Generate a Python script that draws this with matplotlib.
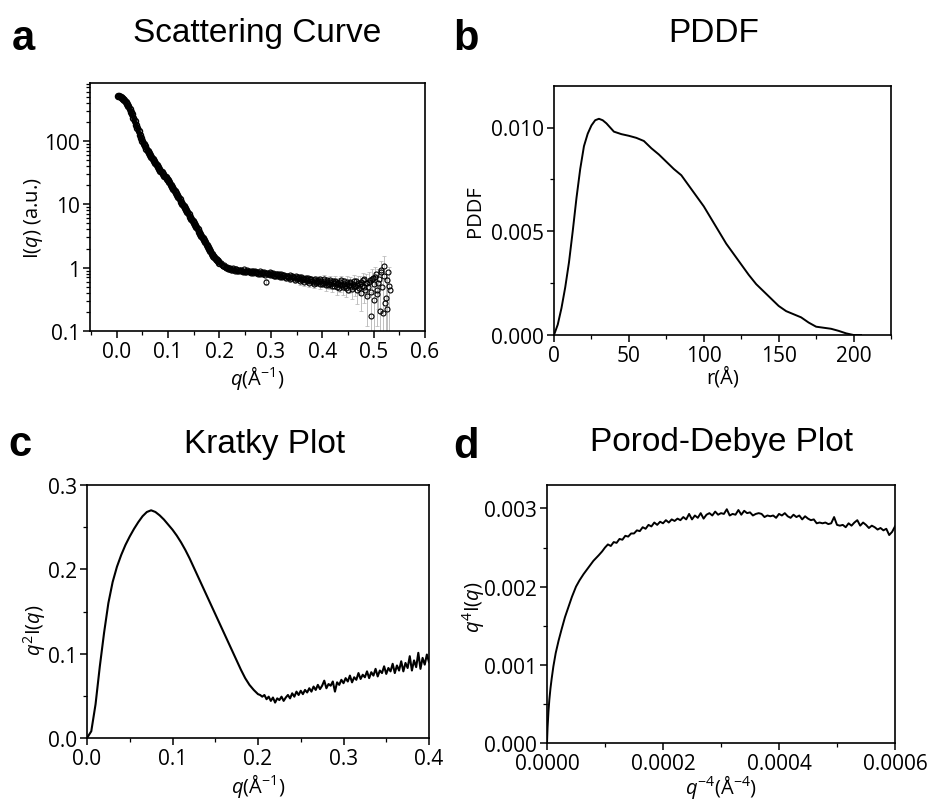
import numpy as np
import matplotlib
matplotlib.use('Agg')
import matplotlib.pyplot as plt
from matplotlib.ticker import MultipleLocator, FixedLocator, FixedFormatter, FormatStrFormatter, LogLocator, NullFormatter

plt.rcParams['font.family'] = ['Open Sans', 'DejaVu Sans']
plt.rcParams['mathtext.fontset'] = 'custom'
plt.rcParams['mathtext.rm'] = 'Open Sans'
plt.rcParams['mathtext.it'] = 'Open Sans:italic'
plt.rcParams['mathtext.bf'] = 'Open Sans:bold'

# ---------------- Panel a: scattering curve ----------------
q_low = [0.0025, 0.005, 0.0075, 0.01, 0.0125, 0.015, 0.0175, 0.02, 0.0225, 0.025,
         0.0275, 0.03, 0.0325, 0.035, 0.0375, 0.04, 0.0425, 0.045, 0.0475, 0.05,
         0.0525, 0.055, 0.0575, 0.06, 0.0625, 0.065, 0.0675, 0.07, 0.0725, 0.075,
         0.0775, 0.08, 0.0825, 0.085, 0.0875, 0.09, 0.0925, 0.095, 0.0975, 0.1,
         0.1025, 0.105, 0.1075, 0.11, 0.1125, 0.115, 0.1175, 0.12, 0.1225, 0.125,
         0.1275, 0.13, 0.1325, 0.135, 0.1375, 0.14, 0.1425, 0.145, 0.1475, 0.15,
         0.1525, 0.155, 0.1575, 0.16, 0.1625, 0.165, 0.1675, 0.17, 0.1725, 0.175,
         0.1775, 0.18, 0.1825, 0.185, 0.1875, 0.19, 0.1925, 0.195, 0.1975, 0.2]
I_low = [520, 510, 495, 478, 458, 435, 408, 380, 350, 320,
         290, 262, 232, 205, 181, 160, 141, 125, 110, 98,
         89, 82, 75.5, 70, 65, 60, 56, 52, 48.5, 45,
         42, 39, 36.5, 34, 32, 30, 28.4, 27, 25.4, 24,
         22.2, 20.5, 19, 17.5, 16.2, 15, 13.9, 12.8, 11.9, 11,
         10.2, 9.5, 8.8, 8.1, 7.5, 6.9, 6.4, 5.9, 5.45, 5.0,
         4.65, 4.3, 4.0, 3.7, 3.42, 3.15, 2.92, 2.7, 2.5, 2.3,
         2.12, 1.95, 1.8, 1.65, 1.55, 1.45, 1.37, 1.3, 1.25, 1.2]

q_high = [0.203, 0.206, 0.209, 0.212, 0.215, 0.218, 0.221, 0.224, 0.227, 0.230,
          0.233, 0.236, 0.239, 0.242, 0.245, 0.248, 0.251, 0.254, 0.257, 0.260,
          0.263, 0.266, 0.269, 0.272, 0.275, 0.278, 0.281, 0.284, 0.287, 0.290,
          0.293, 0.296, 0.299, 0.302, 0.305, 0.308, 0.311, 0.314, 0.317, 0.320,
          0.323, 0.326, 0.329, 0.332, 0.335, 0.338, 0.341, 0.344, 0.347, 0.350,
          0.353, 0.356, 0.359, 0.362, 0.365, 0.368, 0.371, 0.374, 0.377, 0.380,
          0.383, 0.386, 0.389, 0.392, 0.395, 0.398, 0.401, 0.404, 0.407, 0.410,
          0.413, 0.416, 0.419, 0.422, 0.425, 0.428, 0.431, 0.434, 0.437, 0.440,
          0.443, 0.446, 0.449, 0.452, 0.455, 0.458, 0.461, 0.464, 0.467, 0.470,
          0.473, 0.476, 0.479, 0.482, 0.485, 0.488, 0.491, 0.494, 0.497, 0.500,
          0.503, 0.506, 0.509, 0.512, 0.515, 0.518, 0.521, 0.524, 0.527, 0.530]
I_high = [1.17, 1.08, 1.09, 0.99, 1.04, 0.95, 1.00, 0.91, 0.97, 0.90,
          0.95, 0.87, 0.93, 0.92, 0.85, 0.94, 0.86, 0.91, 0.84, 0.89,
          0.90, 0.82, 0.88, 0.85, 0.80, 0.87, 0.83, 0.78, 0.86, 0.60,
          0.82, 0.79, 0.84, 0.76, 0.81, 0.74, 0.80, 0.77, 0.71, 0.79,
          0.73, 0.76, 0.69, 0.75, 0.72, 0.66, 0.74, 0.70, 0.64, 0.72,
          0.68, 0.62, 0.71, 0.65, 0.60, 0.69, 0.63, 0.58, 0.67, 0.61,
          0.56, 0.66, 0.60, 0.64, 0.55, 0.62, 0.58, 0.66, 0.53, 0.60,
          0.56, 0.64, 0.51, 0.58, 0.62, 0.49, 0.57, 0.54, 0.63, 0.50,
          0.56, 0.47, 0.60, 0.53, 0.57, 0.46, 0.61, 0.52, 0.44, 0.58,
          0.55, 0.40, 0.63, 0.50, 0.57, 0.36, 0.60, 0.17, 0.66, 0.31,
          0.72, 0.45, 0.58, 0.21, 0.86, 0.19, 1.08, 0.33, 0.22, 0.52]
err_high = [0.05, 0.06, 0.05, 0.05, 0.06, 0.05, 0.05, 0.06, 0.05, 0.05,
            0.06, 0.05, 0.06, 0.06, 0.05, 0.06, 0.06, 0.05, 0.06, 0.06,
            0.05, 0.06, 0.06, 0.06, 0.05, 0.06, 0.06, 0.06, 0.05, 0.07,
            0.06, 0.06, 0.07, 0.06, 0.07, 0.06, 0.07, 0.07, 0.06, 0.07,
            0.07, 0.06, 0.07, 0.07, 0.07, 0.07, 0.08, 0.07, 0.07, 0.08,
            0.07, 0.08, 0.08, 0.07, 0.08, 0.08, 0.08, 0.09, 0.08, 0.08,
            0.09, 0.09, 0.08, 0.09, 0.09, 0.10, 0.09, 0.10, 0.10, 0.09,
            0.10, 0.11, 0.10, 0.11, 0.11, 0.12, 0.11, 0.12, 0.12, 0.13,
            0.12, 0.13, 0.14, 0.13, 0.15, 0.14, 0.15, 0.16, 0.17, 0.16,
            0.18, 0.19, 0.20, 0.22, 0.21, 0.24, 0.26, 0.25, 0.28, 0.30,
            0.29, 0.33, 0.36, 0.35, 0.40, 0.42, 0.45, 0.46, 0.48, 0.50]

q_high2 = [0.2045, 0.2075, 0.2105, 0.2135, 0.2165, 0.2195, 0.2225, 0.2255, 0.2285, 0.2315,
           0.2345, 0.2375, 0.2405, 0.2435, 0.2465, 0.2495, 0.2525, 0.2555, 0.2585, 0.2615,
           0.2645, 0.2675, 0.2705, 0.2735, 0.2765, 0.2795, 0.2825, 0.2855, 0.2885, 0.2915,
           0.2945, 0.2975, 0.3005, 0.3035, 0.3065, 0.3095, 0.3125, 0.3155, 0.3185, 0.3215,
           0.3245, 0.3275, 0.3305, 0.3335, 0.3365, 0.3395, 0.3425, 0.3455, 0.3485, 0.3515,
           0.3545, 0.3575, 0.3605, 0.3635, 0.3665, 0.3695, 0.3725, 0.3755, 0.3785, 0.3815,
           0.3845, 0.3875, 0.3905, 0.3935, 0.3965, 0.3995, 0.4025, 0.4055, 0.4085, 0.4115,
           0.4145, 0.4175, 0.4205, 0.4235, 0.4265, 0.4295, 0.4325, 0.4355, 0.4385, 0.4415,
           0.4445, 0.4475, 0.4505, 0.4535, 0.4565, 0.4595, 0.4625, 0.4655, 0.4685, 0.4715,
           0.4745, 0.4775, 0.4805, 0.4835, 0.4865, 0.4895, 0.4925, 0.4955, 0.4985, 0.5015,
           0.5045, 0.5075, 0.5105, 0.5135, 0.5165, 0.5195, 0.5225, 0.5255, 0.5285, 0.5315]
I_high2 = [1.12, 1.05, 1.02, 1.03, 0.96, 0.99, 0.93, 0.96, 0.92, 0.94,
           0.89, 0.92, 0.88, 0.90, 0.89, 0.85, 0.90, 0.87, 0.86, 0.83,
           0.88, 0.85, 0.81, 0.86, 0.83, 0.80, 0.84, 0.81, 0.77, 0.83,
           0.80, 0.76, 0.81, 0.78, 0.75, 0.79, 0.73, 0.78, 0.75, 0.72,
           0.77, 0.70, 0.74, 0.71, 0.76, 0.68, 0.72, 0.69, 0.73, 0.66,
           0.70, 0.67, 0.63, 0.69, 0.66, 0.61, 0.68, 0.62, 0.65, 0.59,
           0.64, 0.57, 0.62, 0.59, 0.65, 0.56, 0.61, 0.57, 0.63, 0.54,
           0.59, 0.55, 0.61, 0.52, 0.60, 0.55, 0.48, 0.59, 0.53, 0.61,
           0.51, 0.56, 0.45, 0.59, 0.52, 0.56, 0.49, 0.62, 0.54, 0.47,
           0.60, 0.51, 0.66, 0.44, 0.58, 0.50, 0.63, 0.41, 0.68, 0.55,
           0.78, 0.38, 0.66, 0.92, 0.50, 0.74, 0.28, 0.63, 0.85, 0.45]

# ---------------- Panel b: PDDF ----------------
r_b = [0, 2.5, 5, 7.5, 10, 12.5, 15, 17.5, 20, 22.5, 25, 27.5, 30, 32.5, 35, 40, 45,
       50, 55, 60, 65, 70, 75, 80, 85, 90, 95, 100, 105, 110, 115, 120, 125, 130,
       135, 140, 145, 150, 155, 160, 165, 170, 175, 180, 185, 190, 195, 200, 205]
p_b = [0.0, 0.0005, 0.0013, 0.0023, 0.0035, 0.0050, 0.0066, 0.0080, 0.0091, 0.0097,
       0.0101, 0.01035, 0.01042, 0.01035, 0.0102, 0.0098, 0.00968,
       0.0096, 0.0095, 0.00935, 0.0090, 0.0087, 0.00835, 0.0080, 0.0077, 0.0072,
       0.0067, 0.0062, 0.0056, 0.0050, 0.0044, 0.0039, 0.0034, 0.0029,
       0.00245, 0.0021, 0.00175, 0.0014, 0.00115, 0.0010, 0.00085, 0.0006,
       0.0004, 0.00035, 0.0003, 0.0002, 0.00008, 0.0, 0.0]

# ---------------- Panel c: Kratky ----------------
q_c = [0.0, 0.005, 0.01, 0.015, 0.02, 0.025, 0.03, 0.035, 0.04, 0.045, 0.05, 0.055,
       0.06, 0.065, 0.07, 0.075, 0.08, 0.085, 0.09, 0.095, 0.1, 0.105, 0.11, 0.115,
       0.12, 0.125, 0.13, 0.135, 0.14, 0.145, 0.15, 0.155, 0.16, 0.165, 0.17, 0.175,
       0.18, 0.185, 0.19, 0.195, 0.2,
       0.2025, 0.205, 0.2075, 0.21, 0.2125, 0.215, 0.2175, 0.22, 0.2225, 0.225,
       0.2275, 0.23, 0.2325, 0.235, 0.2375, 0.24, 0.2425, 0.245, 0.2475, 0.25,
       0.2525, 0.255, 0.2575, 0.26, 0.2625, 0.265, 0.2675, 0.27, 0.2725, 0.275,
       0.2775, 0.28, 0.2825, 0.285, 0.2875, 0.29, 0.2925, 0.295, 0.2975, 0.3,
       0.3025, 0.305, 0.3075, 0.31, 0.3125, 0.315, 0.3175, 0.32, 0.3225, 0.325,
       0.3275, 0.33, 0.3325, 0.335, 0.3375, 0.34, 0.3425, 0.345, 0.3475, 0.35,
       0.3525, 0.355, 0.3575, 0.36, 0.3625, 0.365, 0.3675, 0.37, 0.3725, 0.375,
       0.3775, 0.38, 0.3825, 0.385, 0.3875, 0.39, 0.3925, 0.395, 0.3975, 0.4]
k_c = [0.0, 0.008, 0.040, 0.085, 0.125, 0.160, 0.185, 0.203, 0.217, 0.229, 0.239, 0.248,
       0.256, 0.263, 0.268, 0.270, 0.268, 0.264, 0.259, 0.253, 0.247, 0.240, 0.232, 0.223,
       0.213, 0.202, 0.191, 0.180, 0.169, 0.158, 0.147, 0.136, 0.125, 0.114, 0.103, 0.092,
       0.081, 0.071, 0.063, 0.057, 0.052,
       0.051, 0.049, 0.051, 0.046, 0.049, 0.044, 0.048, 0.042, 0.047, 0.045,
       0.049, 0.044, 0.048, 0.051, 0.047, 0.053, 0.049, 0.055, 0.051, 0.056,
       0.052, 0.057, 0.054, 0.059, 0.055, 0.061, 0.057, 0.063, 0.058, 0.062,
       0.068, 0.059, 0.064, 0.062, 0.067, 0.055, 0.066, 0.063, 0.069, 0.065,
       0.071, 0.067, 0.074, 0.066, 0.072, 0.069, 0.077, 0.070, 0.075, 0.072,
       0.079, 0.071, 0.078, 0.074, 0.082, 0.073, 0.080, 0.077, 0.085, 0.076,
       0.083, 0.079, 0.088, 0.077, 0.086, 0.080, 0.091, 0.079, 0.089, 0.083,
       0.097, 0.080, 0.092, 0.084, 0.101, 0.082, 0.095, 0.087, 0.099, 0.090]

# ---------------- Panel d: Porod-Debye (x in units of 1e-6) ----------------
x_d_e6 = [0, 1, 2.5, 4, 6, 8, 11, 15, 20, 25, 31, 37, 43, 50, 56, 63, 71, 80, 89, 95,
          100, 105, 110, 115, 120, 125, 130, 135, 140, 145, 150, 155, 160, 165, 170,
          175, 180, 185, 190, 195, 200, 205, 210, 215, 220, 225, 230, 235, 240, 245,
          250, 255, 260, 265, 270, 275, 280, 285, 290, 295, 300, 305, 310, 315, 320,
          325, 330, 335, 340, 345, 350, 355, 360, 365, 370, 375, 380, 385, 390, 395,
          400, 405, 410, 415, 420, 425, 430, 435, 440, 445, 450, 455, 460, 465, 470,
          475, 480, 485, 490, 495, 500, 505, 510, 515, 520, 525, 530, 535, 540, 545,
          550, 555, 560, 565, 570, 575, 580, 585, 590, 595, 600]
y_d = [0.0, 0.0002, 0.0004, 0.00055, 0.0007, 0.00082, 0.00098, 0.00115, 0.00131, 0.00145,
       0.00161, 0.00174, 0.00187, 0.00200, 0.00208, 0.00216, 0.00224, 0.00233, 0.00240, 0.00245,
       0.00250, 0.00254, 0.00252, 0.00257, 0.00256, 0.00261, 0.00260, 0.00265, 0.00264, 0.00268,
       0.00268, 0.00272, 0.00271, 0.00276, 0.00274, 0.00279, 0.00277, 0.00282, 0.00279, 0.00283,
       0.00281, 0.00285, 0.00282, 0.00286, 0.00284, 0.00287, 0.00285, 0.00289, 0.00286, 0.00293,
       0.00286, 0.00291, 0.00288, 0.00294, 0.00287, 0.00292, 0.00294, 0.00291, 0.00296, 0.00292,
       0.00294, 0.00293, 0.00299, 0.00291, 0.00293, 0.00292, 0.00298, 0.00292, 0.00297, 0.00294,
       0.00295, 0.00291, 0.00293, 0.00294, 0.00293, 0.00289, 0.00291, 0.00290, 0.00291, 0.00288,
       0.00293, 0.00291, 0.00294, 0.00290, 0.00288, 0.00292, 0.00289, 0.00291, 0.00286, 0.00290,
       0.00287, 0.00285, 0.00286, 0.00281, 0.00282, 0.00281, 0.00282, 0.00280, 0.00281, 0.00289,
       0.00279, 0.00278, 0.00279, 0.00276, 0.00281, 0.00278, 0.00282, 0.00285, 0.00278, 0.00282,
       0.00279, 0.00275, 0.00278, 0.00276, 0.00273, 0.00275, 0.00272, 0.00274, 0.00266, 0.00270,
       0.00277]

# ---------------- Figure ----------------
W, H = 934, 812
fig = plt.figure(figsize=(W / 100, H / 100), dpi=100)


def box(l, t, r, b):
    return [l / W, 1 - b / H, (r - l) / W, (b - t) / H]


TICK_FS = 15
LAB_FS = 14.5


def style(ax):
    for s in ax.spines.values():
        s.set_linewidth(1.2)
    ax.tick_params(which='major', direction='out', length=5, width=1.1,
                   labelsize=TICK_FS, pad=2)
    ax.tick_params(which='minor', direction='out', length=3, width=0.9)


axa = fig.add_axes(box(90, 84, 425, 332))
axb = fig.add_axes(box(554, 87, 891, 336))
axc = fig.add_axes(box(87, 486, 429, 739))
axd = fig.add_axes(box(547, 486, 895, 744))

# Panel a
axa.set_yscale('log')
axa.errorbar(q_high, I_high, yerr=err_high, fmt='none', ecolor='#b4b4b4',
             elinewidth=0.6, capsize=1.5, capthick=0.5, zorder=1)
mk = dict(ls='none', marker='o', mfc='none', mec='black', zorder=2)
# overlapping open circles form a solid band at low q
axa.plot(q_low, I_low, color='black', lw=3.2, solid_capstyle='round', zorder=2)
axa.plot(q_low, I_low, ms=4.2, mew=1.2, **mk)
axa.plot(q_high, I_high, ms=3.6, mew=0.8, **mk)
axa.plot(q_high2, I_high2, ms=3.6, mew=0.8, **mk)
axa.set_xlim(-0.052, 0.6)
axa.set_ylim(0.1, 820)
axa.xaxis.set_major_locator(MultipleLocator(0.1))
axa.xaxis.set_minor_locator(MultipleLocator(0.05))
axa.xaxis.set_major_formatter(FormatStrFormatter('%.1f'))
axa.yaxis.set_major_locator(FixedLocator([0.1, 1, 10, 100]))
axa.yaxis.set_major_formatter(FixedFormatter(['0.1', '1', '10', '100']))
axa.yaxis.set_minor_locator(LogLocator(base=10, subs=np.arange(2, 10)))
axa.yaxis.set_minor_formatter(NullFormatter())
style(axa)
axa.set_xlabel(r'$q$(Å$^{-1}$)', fontsize=LAB_FS)
axa.set_ylabel(r'I($q$) (a.u.)', fontsize=LAB_FS)
axa.xaxis.set_label_coords(0.5, -0.185)
axa.xaxis.label.set_verticalalignment('center')
axa.yaxis.set_label_coords(-0.17, 0.46)
axa.yaxis.label.set_verticalalignment('center')

# Panel b
axb.plot(r_b, p_b, color='black', lw=1.4)
axb.set_xlim(0, 225)
axb.set_ylim(0, 0.012)
axb.xaxis.set_major_locator(MultipleLocator(50))
axb.xaxis.set_minor_locator(MultipleLocator(25))
axb.yaxis.set_major_locator(FixedLocator([0.0, 0.005, 0.010]))
axb.yaxis.set_major_formatter(FormatStrFormatter('%.3f'))
axb.yaxis.set_minor_locator(FixedLocator([0.0025, 0.0075]))
style(axb)
axb.set_xlabel('r(Å)', fontsize=LAB_FS)
axb.set_ylabel('PDDF', fontsize=LAB_FS)
axb.xaxis.set_label_coords(0.5, -0.169)
axb.xaxis.label.set_verticalalignment('center')
axb.yaxis.set_label_coords(-0.233, 0.5)
axb.yaxis.label.set_verticalalignment('center')

# Panel c
axc.plot(q_c, k_c, color='black', lw=1.5)
axc.set_xlim(0, 0.4)
axc.set_ylim(0, 0.3)
axc.xaxis.set_major_locator(MultipleLocator(0.1))
axc.xaxis.set_minor_locator(MultipleLocator(0.05))
axc.xaxis.set_major_formatter(FormatStrFormatter('%.1f'))
axc.yaxis.set_major_locator(MultipleLocator(0.1))
axc.yaxis.set_minor_locator(MultipleLocator(0.05))
axc.yaxis.set_major_formatter(FormatStrFormatter('%.1f'))
style(axc)
axc.set_xlabel(r'$q$(Å$^{-1}$)', fontsize=LAB_FS)
axc.set_ylabel(r'$q^2$I($q$)', fontsize=LAB_FS)
axc.xaxis.set_label_coords(0.5, -0.186)
axc.xaxis.label.set_verticalalignment('center')
axc.yaxis.set_label_coords(-0.152, 0.43)
axc.yaxis.label.set_verticalalignment('center')

# Panel d
axd.plot(np.array(x_d_e6) * 1e-6, y_d, color='black', lw=1.4)
axd.set_xlim(0, 0.0006)
axd.set_ylim(0, 0.0033)
axd.xaxis.set_major_locator(FixedLocator([0.0, 0.0002, 0.0004, 0.0006]))
axd.xaxis.set_major_formatter(FormatStrFormatter('%.4f'))
axd.xaxis.set_minor_locator(FixedLocator([0.0001, 0.0003, 0.0005]))
axd.yaxis.set_major_locator(FixedLocator([0.0, 0.001, 0.002, 0.003]))
axd.yaxis.set_major_formatter(FormatStrFormatter('%.3f'))
axd.yaxis.set_minor_locator(FixedLocator([0.0005, 0.0015, 0.0025]))
style(axd)
axd.set_xlabel(r'$q^{-4}$(Å$^{-4}$)', fontsize=LAB_FS)
axd.set_ylabel(r'$q^4$I($q$)', fontsize=LAB_FS)
axd.xaxis.set_label_coords(0.5, -0.167)
axd.xaxis.label.set_verticalalignment('center')
axd.yaxis.set_label_coords(-0.21, 0.53)
axd.yaxis.label.set_verticalalignment('center')

# Titles and panel letters
TITLE_FS = 24
LETTER_FS = 30
titles = [('Scattering Curve', 257, 42), ('PDDF', 714, 42),
          ('Kratky Plot', 265, 453), ('Porod-Debye Plot', 721, 451)]
for txt, x, y in titles:
    fig.text(x / W, 1 - y / H, txt, fontsize=TITLE_FS, family='Liberation Sans',
             ha='center', va='baseline')
letters = [('a', 12, 50), ('b', 453, 50), ('c', 8, 456), ('d', 453, 458)]
for txt, x, y in letters:
    fig.text(x / W, 1 - y / H, txt, fontsize=LETTER_FS, family='Liberation Sans',
             fontweight='bold', ha='left', va='baseline')

fig.savefig('out.png', dpi=100)
